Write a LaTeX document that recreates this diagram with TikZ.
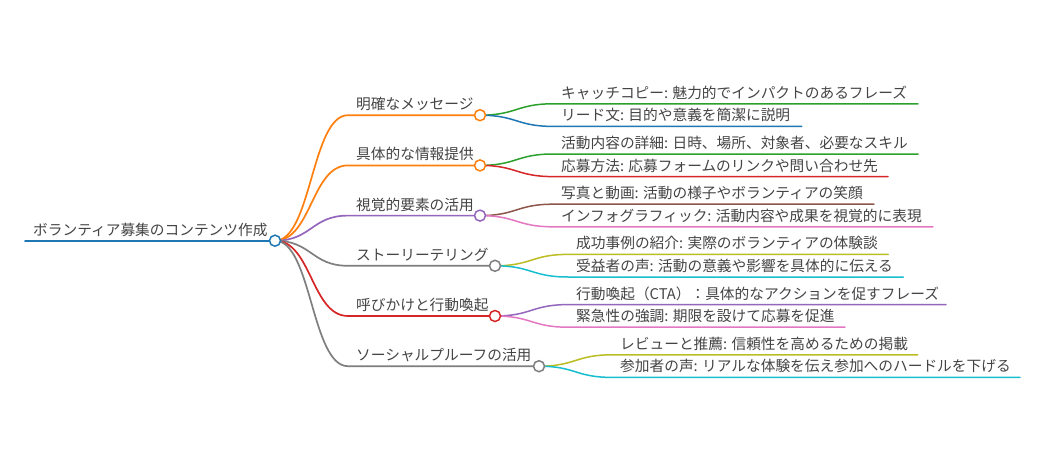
\documentclass[tikz,border=0pt]{standalone}
\usepackage{fontspec}
\setmainfont{Noto Sans CJK JP}
\definecolor{cBlue}{HTML}{1F77B4}
\definecolor{cOrange}{HTML}{FF7F0E}
\definecolor{cGreen}{HTML}{2CA02C}
\definecolor{cRed}{HTML}{D62728}
\definecolor{cPurple}{HTML}{9467BD}
\definecolor{cBrown}{HTML}{8C564B}
\definecolor{cPink}{HTML}{E377C2}
\definecolor{cGray}{HTML}{7F7F7F}
\definecolor{cOlive}{HTML}{BCBD22}
\definecolor{cCyan}{HTML}{17BECF}
\definecolor{cText}{HTML}{444444}
\pgfdeclarelayer{bg}
\pgfsetlayers{bg,main}
\tikzset{
  dot/.style={circle, draw=#1, fill=white, line width=1.5pt, minimum size=11pt, inner sep=0pt},
  txt/.style={anchor=base west, inner sep=0pt, xshift=8pt, yshift=5.5pt, text=cText,
              font=\fontsize{14.7}{17}\selectfont},
  edge1/.style={draw=#1, line width=1.7pt, line cap=round},
  edge2/.style={draw=#1, line width=1.5pt, line cap=round},
  link/.style={out=0, in=180, distance=36.5pt}
}
\begin{document}
\begin{tikzpicture}[x=1pt,y=-1pt]
\useasboundingbox (0,0) rectangle (1044,463);

% ---------- root ----------
\coordinate (r0) at (25,240.7);
\node[dot=cBlue] (r) at (275,240.7) {};
\node[txt] (rt) at (r0) {ボランティア募集のコンテンツ作成};

% ---------- level 1 ----------
\coordinate (a1) at (348,115.2);
\coordinate (a2) at (348,165.4);
\coordinate (a3) at (348,215.6);
\coordinate (a4) at (348,265.8);
\coordinate (a5) at (348,316.0);
\coordinate (a6) at (348,366.2);
\node[dot=cOrange] (c1) at (480,115.2) {};
\node[dot=cOrange] (c2) at (480,165.4) {};
\node[dot=cPurple] (c3) at (480,215.6) {};
\node[dot=cGray]   (c4) at (495,265.8) {};
\node[dot=cRed]    (c5) at (495,316.0) {};
\node[dot=cGray]   (c6) at (539,366.2) {};
\node[txt] (t1) at (a1) {明確なメッセージ};
\node[txt] (t2) at (a2) {具体的な情報提供};
\node[txt] (t3) at (a3) {視覚的要素の活用};
\node[txt] (t4) at (a4) {ストーリーテリング};
\node[txt] (t5) at (a5) {呼びかけと行動喚起};
\node[txt] (t6) at (a6) {ソーシャルプルーフの活用};

% ---------- level 2 (leaves) ----------
\coordinate (b1a) at (553,103.8);  \coordinate (e1a) at (918,103.8);
\coordinate (b1b) at (553,126.4);  \coordinate (e1b) at (801.7,126.4);
\coordinate (b2a) at (553,154.0);  \coordinate (e2a) at (918,154.0);
\coordinate (b2b) at (553,176.6);  \coordinate (e2b) at (888,176.6);
\coordinate (b3a) at (553,204.2);  \coordinate (e3a) at (874,204.2);
\coordinate (b3b) at (553,226.8);  \coordinate (e3b) at (933,226.8);
\coordinate (b4a) at (568,254.4);  \coordinate (e4a) at (888.3,254.4);
\coordinate (b4b) at (568,277.0);  \coordinate (e4b) at (903.3,277.0);
\coordinate (b5a) at (568,304.6);  \coordinate (e5a) at (946,304.6);
\coordinate (b5b) at (568,327.2);  \coordinate (e5b) at (845,327.2);
\coordinate (b6a) at (612,354.8);  \coordinate (e6a) at (917.7,354.8);
\coordinate (b6b) at (612,377.4);  \coordinate (e6b) at (1020,377.4);

\node[txt] (l1a) at (b1a) {キャッチコピー: 魅力的でインパクトのあるフレーズ};
\node[txt] (l1b) at (b1b) {リード文: 目的や意義を簡潔に説明};
\node[txt] (l2a) at (b2a) {活動内容の詳細: 日時、場所、対象者、必要なスキル};
\node[txt] (l2b) at (b2b) {応募方法: 応募フォームのリンクや問い合わせ先};
\node[txt] (l3a) at (b3a) {写真と動画: 活動の様子やボランティアの笑顔};
\node[txt] (l3b) at (b3b) {インフォグラフィック: 活動内容や成果を視覚的に表現};
\node[txt] (l4a) at (b4a) {成功事例の紹介: 実際のボランティアの体験談};
\node[txt] (l4b) at (b4b) {受益者の声: 活動の意義や影響を具体的に伝える};
\node[txt] (l5a) at (b5a) {行動喚起（CTA）：具体的なアクションを促すフレーズ};
\node[txt] (l5b) at (b5b) {緊急性の強調: 期限を設けて応募を促進};
\node[txt] (l6a) at (b6a) {レビューと推薦: 信頼性を高めるための掲載};
\node[txt] (l6b) at (b6b) {参加者の声: リアルな体験を伝え参加へのハードルを下げる};

\begin{pgfonlayer}{bg}
  \fill[white] (0,0) rectangle (1044,463);
  % root underline
  \draw[edge1=cBlue] (r0) -- (r.center);
  % root -> level 1
  \draw[edge1=cOrange] (r.center) to[link] (a1) -- (c1.center);
  \draw[edge1=cOrange] (r.center) to[link] (a2) -- (c2.center);
  \draw[edge1=cPurple] (r.center) to[link] (a3) -- (c3.center);
  \draw[edge1=cGray]   (r.center) to[link] (a4) -- (c4.center);
  \draw[edge1=cRed]    (r.center) to[link] (a5) -- (c5.center);
  \draw[edge1=cGray]   (r.center) to[link] (a6) -- (c6.center);
  % level 1 -> leaves
  \draw[edge2=cGreen]  (c1.center) to[link] (b1a) -- (e1a);
  \draw[edge2=cBlue]   (c1.center) to[link] (b1b) -- (e1b);
  \draw[edge2=cGreen]  (c2.center) to[link] (b2a) -- (e2a);
  \draw[edge2=cRed]    (c2.center) to[link] (b2b) -- (e2b);
  \draw[edge2=cBrown]  (c3.center) to[link] (b3a) -- (e3a);
  \draw[edge2=cPink]   (c3.center) to[link] (b3b) -- (e3b);
  \draw[edge2=cOlive]  (c4.center) to[link] (b4a) -- (e4a);
  \draw[edge2=cCyan]   (c4.center) to[link] (b4b) -- (e4b);
  \draw[edge2=cPurple] (c5.center) to[link] (b5a) -- (e5a);
  \draw[edge2=cPink]   (c5.center) to[link] (b5b) -- (e5b);
  \draw[edge2=cOlive]  (c6.center) to[link] (b6a) -- (e6a);
  \draw[edge2=cCyan]   (c6.center) to[link] (b6b) -- (e6b);
\end{pgfonlayer}
\end{tikzpicture}
\end{document}
